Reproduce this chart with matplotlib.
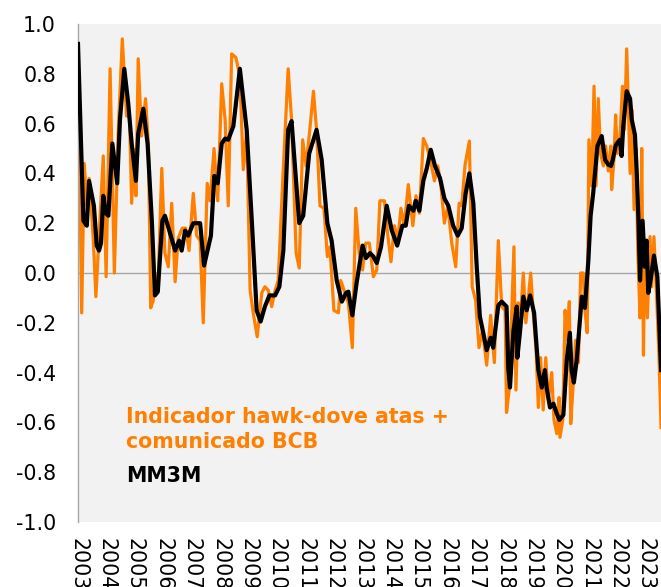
import matplotlib
matplotlib.use("Agg")
import matplotlib.pyplot as plt

# ---- data (decimal years) ----
orange_t = [2003.00, 2003.13, 2003.22, 2003.31, 2003.39, 2003.48, 2003.54, 2003.63, 2003.77, 2003.89,
            2003.99, 2004.13, 2004.28, 2004.42, 2004.56, 2004.71, 2004.81, 2004.89, 2004.98, 2005.04,
            2005.12, 2005.24, 2005.38, 2005.48, 2005.56, 2005.65, 2005.71, 2005.81, 2005.95, 2006.06,
            2006.18, 2006.30, 2006.42, 2006.53, 2006.67, 2006.79, 2006.91, 2007.06, 2007.18, 2007.30,
            2007.41, 2007.55, 2007.65, 2007.79, 2007.92, 2008.06, 2008.18, 2008.29, 2008.41, 2008.56,
            2008.70, 2008.82, 2008.94, 2009.06, 2009.17, 2009.31, 2009.47, 2009.58, 2009.70, 2009.82,
            2009.94, 2010.05, 2010.21, 2010.40, 2010.52, 2010.68, 2010.79, 2010.91, 2011.03, 2011.14,
            2011.29, 2011.40, 2011.52, 2011.66, 2011.78, 2011.87, 2012.01, 2012.17, 2012.25, 2012.40,
            2012.52, 2012.66, 2012.78, 2012.90, 2013.02, 2013.13, 2013.26, 2013.40, 2013.52, 2013.63,
            2013.79, 2013.90, 2014.02, 2014.14, 2014.26, 2014.37, 2014.49, 2014.63, 2014.79, 2014.90,
            2015.02, 2015.16, 2015.28, 2015.43, 2015.55, 2015.67, 2015.78, 2015.90, 2016.02, 2016.16,
            2016.30, 2016.42, 2016.51, 2016.63, 2016.78, 2016.88, 2017.00, 2017.12, 2017.24, 2017.39,
            2017.53, 2017.66, 2017.80, 2017.92, 2018.04, 2018.09, 2018.18, 2018.35, 2018.42, 2018.50,
            2018.59, 2018.68, 2018.77, 2018.86, 2018.94, 2019.03, 2019.13, 2019.21, 2019.29, 2019.38,
            2019.47, 2019.56, 2019.68, 2019.76, 2019.86, 2019.94, 2019.97, 2020.07, 2020.15, 2020.23,
            2020.30, 2020.35, 2020.44, 2020.52, 2020.62, 2020.70, 2020.79, 2020.85, 2020.93, 2020.99,
            2021.09, 2021.17, 2021.24, 2021.32, 2021.40, 2021.50, 2021.58, 2021.67, 2021.76, 2021.79,
            2021.87, 2021.93, 2021.99, 2022.08, 2022.17, 2022.24, 2022.32, 2022.38, 2022.44, 2022.50,
            2022.58, 2022.65, 2022.71, 2022.79, 2022.85, 2022.91, 2022.96, 2023.05, 2023.14, 2023.20,
            2023.28, 2023.38, 2023.46, 2023.53]
orange_v = [0.92, -0.16, 0.44, 0.27, 0.38, 0.24, 0.13, -0.095, 0.21, 0.47,
            -0.015, 0.82, 0.00, 0.575, 0.94, 0.63, 0.64, 0.28, 0.495, 0.31,
            0.86, 0.55, 0.70, 0.51, -0.14, -0.11, 0.00, -0.08, 0.42, 0.08,
            0.025, 0.28, -0.035, 0.14, 0.18, 0.18, 0.09, 0.32, 0.15, 0.13,
            -0.20, 0.36, 0.29, 0.50, 0.29, 0.76, 0.615, 0.27, 0.88, 0.865,
            0.79, 0.415, 0.575, -0.07, -0.16, -0.256, -0.08, -0.055, -0.07, -0.135,
            -0.07, -0.03, 0.375, 0.82, 0.615, 0.08, 0.02, 0.535, 0.43, 0.55,
            0.73, 0.575, 0.27, 0.26, 0.066, 0.105, -0.15, -0.16, -0.03, -0.08,
            -0.12, -0.30, 0.26, 0.08, 0.012, 0.12, 0.12, -0.015, 0.012, 0.29,
            0.29, 0.16, 0.045, 0.19, 0.13, 0.26, 0.19, 0.355, 0.19, 0.31,
            0.24, 0.54, 0.51, 0.44, 0.37, 0.43, 0.35, 0.20, 0.27, 0.12,
            0.025, 0.28, 0.27, 0.435, 0.53, -0.055, -0.11, -0.30, -0.23, -0.37,
            -0.17, -0.36, 0.13, -0.135, -0.15, -0.56, -0.47, 0.105, -0.47, -0.12,
            -0.16, 0.00, -0.20, -0.095, 0.00, -0.16, -0.31, -0.54, -0.34, -0.55,
            -0.34, -0.51, -0.40, -0.59, -0.645, -0.50, -0.66, -0.59, -0.15, -0.27,
            -0.115, -0.605, -0.44, -0.27, -0.36, 0.00, 0.00, -0.15, -0.24, 0.535,
            0.35, 0.75, 0.35, 0.70, 0.48, 0.43, 0.51, 0.41, 0.51, 0.335,
            0.455, 0.635, 0.48, 0.535, 0.75, 0.575, 0.90, 0.67, 0.40, 0.655,
            0.255, 0.50, 0.09, -0.18, 0.50, -0.33, 0.105, -0.18, 0.146, -0.055,
            0.146, -0.11, -0.34, -0.62]

mm3m_t = [2003.00, 2003.19, 2003.31, 2003.39, 2003.56, 2003.66, 2003.74, 2003.81, 2003.89, 2003.98,
          2004.07, 2004.21, 2004.38, 2004.48, 2004.63, 2004.77, 2004.89, 2005.04, 2005.12, 2005.30,
          2005.45, 2005.60, 2005.71, 2005.81, 2005.97, 2006.06, 2006.42, 2006.56, 2006.65, 2006.77,
          2006.88, 2007.06, 2007.30, 2007.44, 2007.68, 2007.80, 2007.92, 2008.06, 2008.18, 2008.29,
          2008.47, 2008.70, 2008.94, 2009.12, 2009.29, 2009.43, 2009.58, 2009.74, 2009.94, 2010.09,
          2010.23, 2010.40, 2010.52, 2010.79, 2010.93, 2011.14, 2011.40, 2011.58, 2011.78, 2011.93,
          2012.11, 2012.29, 2012.44, 2012.52, 2012.66, 2012.81, 2013.02, 2013.14, 2013.28, 2013.40,
          2013.52, 2013.67, 2013.87, 2014.05, 2014.24, 2014.42, 2014.54, 2014.65, 2014.81, 2014.89,
          2015.02, 2015.16, 2015.28, 2015.42, 2015.57, 2015.75, 2015.90, 2016.04, 2016.21, 2016.37,
          2016.51, 2016.65, 2016.78, 2016.92, 2017.04, 2017.15, 2017.27, 2017.39, 2017.53, 2017.62,
          2017.80, 2017.92, 2018.09, 2018.15, 2018.21, 2018.33, 2018.45, 2018.47, 2018.56, 2018.68,
          2018.80, 2018.92, 2019.06, 2019.21, 2019.33, 2019.44, 2019.50, 2019.62, 2019.74, 2019.86,
          2019.95, 2020.09, 2020.21, 2020.32, 2020.38, 2020.46, 2020.56, 2020.74, 2020.85, 2020.97,
          2021.05, 2021.14, 2021.29, 2021.44, 2021.56, 2021.67, 2021.77, 2021.83, 2021.94, 2022.08,
          2022.14, 2022.20, 2022.32, 2022.44, 2022.50, 2022.61, 2022.67, 2022.73, 2022.79, 2022.88,
          2022.96, 2023.02, 2023.08, 2023.16, 2023.28, 2023.40, 2023.53]
mm3m_v = [0.92, 0.21, 0.19, 0.37, 0.27, 0.11, 0.09, 0.12, 0.31, 0.24,
          0.23, 0.52, 0.36, 0.62, 0.82, 0.68, 0.52, 0.37, 0.56, 0.66,
          0.52, 0.21, -0.09, -0.075, 0.21, 0.23, 0.09, 0.13, 0.09, 0.17,
          0.15, 0.20, 0.20, 0.03, 0.15, 0.39, 0.36, 0.52, 0.54, 0.535,
          0.59, 0.82, 0.575, 0.21, -0.15, -0.195, -0.135, -0.09, -0.09, -0.055,
          0.09, 0.575, 0.61, 0.20, 0.23, 0.48, 0.575, 0.455, 0.20, 0.13,
          -0.03, -0.115, -0.08, -0.075, -0.17, -0.04, 0.11, 0.06, 0.08, 0.066,
          0.04, 0.105, 0.27, 0.17, 0.11, 0.19, 0.19, 0.27, 0.25, 0.29,
          0.25, 0.37, 0.42, 0.495, 0.43, 0.38, 0.30, 0.27, 0.19, 0.15,
          0.18, 0.32, 0.40, 0.28, 0.025, -0.175, -0.24, -0.31, -0.26, -0.30,
          -0.13, -0.115, -0.135, -0.38, -0.46, -0.235, -0.135, -0.34, -0.24, -0.095,
          -0.15, -0.09, -0.16, -0.39, -0.46, -0.39, -0.46, -0.54, -0.525, -0.565,
          -0.59, -0.57, -0.35, -0.24, -0.39, -0.44, -0.35, -0.095, -0.14, 0.05,
          0.23, 0.32, 0.51, 0.55, 0.455, 0.435, 0.43, 0.455, 0.515, 0.535,
          0.47, 0.59, 0.73, 0.70, 0.615, 0.555, 0.415, 0.23, -0.03, 0.21,
          0.025, 0.13, -0.08, -0.03, 0.07, -0.015, -0.39]

year_ticks = list(range(2003, 2024))
year_labels = [str(y) for y in year_ticks]
y_ticks = [-1.0, -0.8, -0.6, -0.4, -0.2, 0.0, 0.2, 0.4, 0.6, 0.8, 1.0]
y_labels = ["-1.0", "-0.8", "-0.6", "-0.4", "-0.2", "0.0", "0.2", "0.4", "0.6", "0.8", "1.0"]
label_orange_1 = "Indicador hawk-dove atas +"
label_orange_2 = "comunicado BCB"
label_black = "MM3M"

# ---- figure ----
plt.rcParams['font.family'] = ['DejaVu Sans']
W, H = 661, 587
fig = plt.figure(figsize=(W / 100, H / 100), dpi=100)
fig.patch.set_facecolor('white')
AX_L, AX_B, AX_T = 78, 522, 24
ax = fig.add_axes([AX_L / W, (H - AX_B) / H, (W - AX_L) / W, (AX_B - AX_T) / H])
ax.set_facecolor('#f2f2f2')

ORANGE = '#ff7f00'
ax.axhline(0, color='#a6a6a6', lw=1.0, zorder=1)
ax.plot(orange_t, orange_v, color=ORANGE, lw=2.3, zorder=2)
ax.plot(mm3m_t, mm3m_v, color='black', lw=3.0, zorder=3)

ax.set_xlim(2003.0, 2003.0 + (W - AX_L) / 28.4)
ax.set_ylim(-1.0, 1.0)
ax.set_yticks(y_ticks)
ax.set_yticklabels(y_labels, fontsize=14.8)
ax.set_xticks(year_ticks)
ax.set_xticklabels(year_labels, fontsize=14.8, rotation=270, ha='center', va='top')
ax.tick_params(axis='both', length=0, colors='black')
ax.tick_params(axis='y', pad=15.8)
ax.tick_params(axis='x', pad=11.5)

for s in ['top', 'right', 'bottom']:
    ax.spines[s].set_visible(False)
ax.spines['left'].set_color('#a6a6a6')
ax.spines['left'].set_linewidth(1.0)

def ax_xy(px, py):
    return (px - AX_L) / (W - AX_L), (AX_B - py) / (AX_B - AX_T)

for txt, py, col in [(label_orange_1, 423.3, ORANGE),
                     (label_orange_2, 448.3, ORANGE),
                     (label_black, 482.3, 'black')]:
    x, y = ax_xy(126.0, py)
    ax.text(x, y, txt, transform=ax.transAxes, color=col, fontsize=14.8,
            fontweight='bold', va='baseline', ha='left')

fig.savefig('out.png', dpi=100)
